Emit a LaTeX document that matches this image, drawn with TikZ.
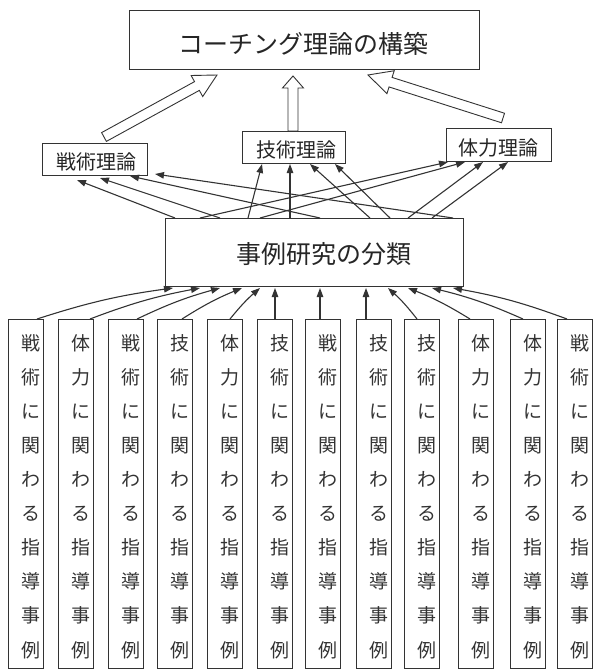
\documentclass[tikz,border=0pt]{standalone}
\usepackage{fontspec}
\newfontfamily\jp{Noto Sans CJK JP}
\usetikzlibrary{arrows.meta,calc}
\begin{document}
\begin{tikzpicture}[x=1pt,y=-1pt,
  box/.style={draw=black!80, line width=0.9pt, inner sep=0pt},
  bigtxt/.style={font=\jp\fontsize{25}{25}\selectfont, text=black!85, inner sep=0pt},
  midtxt/.style={font=\jp\fontsize{20}{20}\selectfont, text=black!85, inner sep=0pt},
  arr/.style={draw=black!80, line width=1.1pt, -{Triangle[length=9pt,width=6.5pt]}},
  hollow/.style={draw=black!80, line width=0.9pt, fill=white, line join=miter},
  colbox/.style={draw=black!80, line width=0.9pt, minimum width=34.5pt, minimum height=349pt, anchor=north west, inner sep=0pt},
  colchar/.style={font=\jp\fontsize{19}{19}\selectfont, text=black!80, inner sep=0pt}]
\useasboundingbox (0,0) rectangle (592,671);

% top box
\node[box, minimum width=350pt, minimum height=59pt] (top) at (304,39.5) {};
\node[bigtxt] (toptxt) at (303,44) {コーチング理論の構築};

% theory boxes
\node[box, minimum width=105pt, minimum height=32pt] (sen) at (94.5,159) {};
\node[midtxt] (sentxt) at (96,162) {戦術理論};
\node[box, minimum width=103pt, minimum height=32pt] (gi) at (293.5,147) {};
\node[midtxt] (gitxt) at (296,150) {技術理論};
\node[box, minimum width=105pt, minimum height=33pt] (tai) at (498.5,144.5) {};
\node[midtxt] (taitxt) at (498,147.5) {体力理論};

% middle box
\node[box, minimum width=298pt, minimum height=68pt] (mid) at (314,252) {};
\node[bigtxt] (midtxt) at (324,254) {事例研究の分類};

% hollow arrows
\coordinate (ha1) at (104,137); \coordinate (hb1) at (217,75);
\coordinate (ha2) at (293,131); \coordinate (hb2) at (293,76);
\coordinate (ha3) at (503,118); \coordinate (hb3) at (368,75);
\begin{scope}[shift={(ha1)}, rotate=28.75]
  \draw[hollow] (0pt,-5pt) -- (106pt,-5pt) -- (106pt,-12pt) -- (128.9pt,0pt) -- (106pt,12pt) -- (106pt,5pt) -- (0pt,5pt) -- cycle;
\end{scope}
\begin{scope}[shift={(ha2)}, rotate=90]
  \draw[hollow] (0pt,-5pt) -- (43pt,-5pt) -- (43pt,-10.5pt) -- (55pt,0pt) -- (43pt,10.5pt) -- (43pt,5pt) -- (0pt,5pt) -- cycle;
\end{scope}
\begin{scope}[shift={(ha3)}, rotate=162.33]
  \draw[hollow] (0pt,-5pt) -- (118pt,-5pt) -- (118pt,-12pt) -- (141.7pt,0pt) -- (118pt,12pt) -- (118pt,5pt) -- (0pt,5pt) -- cycle;
\end{scope}

% arrows from middle box to theory boxes
\foreach \sx/\ex/\ey [count=\k] in {175/77/180, 220/100/178, 320/130/176, 453/155/174,
    248/262/164, 290/290/164, 370/310/164, 390/335/164,
    200/448/162, 260/465/162, 408/483/162, 432/508/162} {
  \coordinate (t\k) at (\sx,218);
  \coordinate (h\k) at (\ex,\ey);
  \draw[arr] (t\k) -- (h\k);
}

% columns
\foreach \i/\l/\a/\b/\sx/\ex in {1/8/戦/術/37/173, 2/58/体/力/90/200, 3/108/戦/術/137/220,
    4/157/技/術/182/242, 5/207/体/力/230/260, 6/257/技/術/275/275,
    7/305/戦/術/320/320, 8/356/技/術/366/366, 9/404/技/術/417/388,
    10/458/体/力/470/408, 11/510/体/力/523/432, 12/557/戦/術/567/453} {
  \node[colbox] (c\i) at (\l,319) {};
  \foreach \ch [count=\k from 0] in {\a,\b,に,関,わ,る,指,導,事,例} {
    \node[colchar] (c\i t\k) at ({\l+23},{343+34.1*\k}) {\ch};
  }
  \coordinate (s\i) at (\sx,319);
  \coordinate (e\i) at (\ex,288);
  \pgfmathsetmacro\bd{5*sign(\ex-\sx)}
  \draw[arr] (s\i) to[bend left=\bd] (e\i);
}
\end{tikzpicture}
\end{document}
